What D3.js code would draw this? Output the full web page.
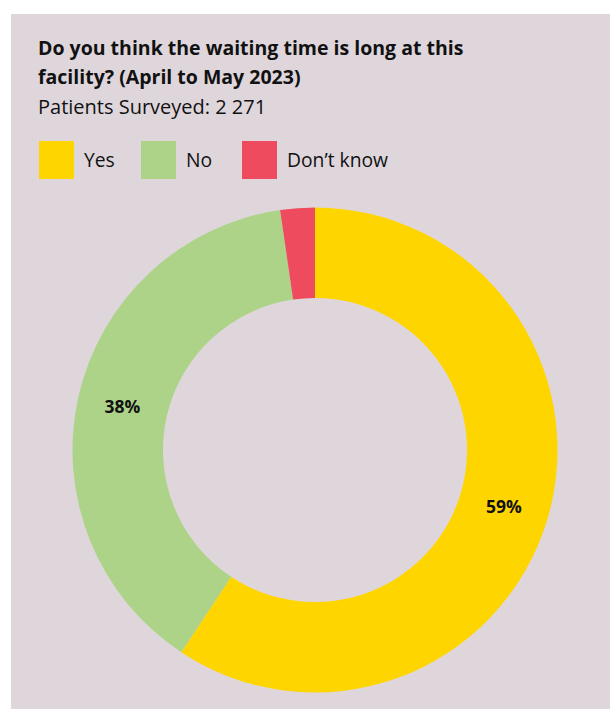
<!DOCTYPE html>
<html>
<head>
<meta charset="utf-8">
<script src="https://cdn.jsdelivr.net/npm/d3@7"></script>
<style>
  html, body { margin: 0; padding: 0; background: #ffffff; }
  svg { display: block; }
  text { font-family: "Open Sans", "Noto Sans", sans-serif; fill: #111; }
</style>
</head>
<body>
<script>
// Survey answers and their shares (percent)
const categories = ["Yes", "No", "Don\u2019t know"];
const shares = [59.3, 38.4, 2.3];
const colors = ["#FFD500", "#ADD388", "#EF4B5F"];
const titleLines = ["Do you think the waiting time is long at this", "facility? (April to May 2023)"];
const subtitle = "Patients Surveyed: 2 271";

const W = 610, H = 709;
const svg = d3.select("body").append("svg").attr("width", W).attr("height", H);

// panel
svg.append("rect").attr("x", 11).attr("y", 14).attr("width", W - 11).attr("height", H - 14)
  .attr("fill", "#DFD6DC");

// title block
svg.selectAll("text.title").data(titleLines).join("text")
  .attr("class", "title")
  .attr("x", 38).attr("y", (d, i) => 55 + i * 29)
  .attr("font-size", 19.5).attr("font-weight", 700)
  .text(d => d);
svg.append("text").attr("x", 38).attr("y", 114)
  .attr("font-size", 20).text(subtitle);

// legend
const legendX = [39, 141, 242];
const lg = svg.append("g").selectAll("g").data(categories).join("g")
  .attr("transform", (d, i) => `translate(${legendX[i]},141)`);
lg.append("rect").attr("width", 35).attr("height", 38).attr("fill", (d, i) => colors[i]);
lg.append("text").attr("x", 45).attr("y", 26).attr("font-size", 19.3).text(d => d);

// donut
const cx = 315, cy = 450, rOuter = 242.5, rInner = 152;
const pie = d3.pie().sort(null).value(d => d.v);
const arcs = pie(categories.map((c, i) => ({ c, v: shares[i], color: colors[i] })));
const arc = d3.arc().innerRadius(rInner).outerRadius(rOuter);
const g = svg.append("g").attr("transform", `translate(${cx},${cy})`);
g.selectAll("path").data(arcs).join("path")
  .attr("d", arc).attr("fill", d => d.data.color);

// percentage labels on the larger slices
g.selectAll("text").data(arcs.filter(d => d.data.v >= 10)).join("text")
  .attr("transform", d => `translate(${arc.centroid(d)})`)
  .attr("text-anchor", "middle").attr("dy", "0.35em")
  .attr("font-size", 17.5).attr("font-weight", 700)
  .text(d => Math.round(d.data.v) + "%");
</script>
</body>
</html>
